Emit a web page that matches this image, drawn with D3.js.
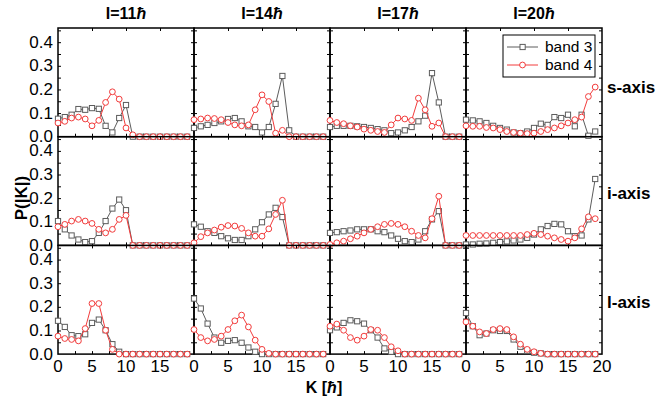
<!DOCTYPE html>
<html>
<head>
<meta charset="utf-8">
<script src="https://cdn.jsdelivr.net/npm/d3@7"></script>
<style>
  body { margin: 0; background: #fff; }
  svg text { font-family: Arial, "Liberation Sans", sans-serif; }
</style>
</head>
<body>
<svg id="kDistGraph" width="659" height="406"></svg>
<script>
// K values [hbar]
let kValues = [0, 1, 2, 3, 4, 5, 6, 7, 8, 9, 10, 11, 12, 13, 14, 15, 16, 17, 18, 19];
let spins = [11, 14, 17, 20];
let rotAxes = ["s-axis", "i-axis", "l-axis"];
let bands = ["band 3", "band 4"];
let yTickLabels = [0, 0.1, 0.2, 0.3, 0.4];
let xTickLabels = [0, 5, 10, 15, 20];

// P(|K|), one array per spin I = 11, 14, 17, 20
let band3S = [
  [0.076, 0.083, 0.093, 0.117, 0.114, 0.121, 0.118, 0.046, 0.018, 0.079, 0.134, 0, 0, 0, 0, 0, 0, 0, 0, 0],
  [0.037, 0.044, 0.050, 0.058, 0.065, 0.075, 0.079, 0.065, 0.044, 0.041, 0.018, 0.041, 0.139, 0.257, 0.027, 0, 0, 0, 0, 0],
  [0.041, 0.046, 0.046, 0.046, 0.044, 0.041, 0.037, 0.032, 0.027, 0.015, 0.018, 0.027, 0.041, 0.065, 0.089, 0.269, 0.145, 0, 0, 0],
  [0.072, 0.069, 0.065, 0.058, 0.046, 0.037, 0.030, 0.018, 0.015, 0.022, 0.037, 0.055, 0.050, 0.083, 0.079, 0.093, 0.044, 0.093, 0.004, 0.022]
];
let band4S = [
  [0.058, 0.065, 0.079, 0.083, 0.075, 0.046, 0.069, 0.145, 0.190, 0.159, 0.037, 0.008, 0, 0, 0, 0, 0, 0, 0, 0],
  [0.072, 0.075, 0.079, 0.077, 0.072, 0.060, 0.050, 0.046, 0.050, 0.114, 0.177, 0.149, 0.015, 0.027, 0, 0, 0, 0, 0, 0],
  [0.069, 0.060, 0.055, 0.046, 0.041, 0.032, 0.027, 0.022, 0.018, 0.050, 0.079, 0.075, 0.069, 0.163, 0.114, 0.044, 0.058, 0, 0, 0],
  [0.046, 0.044, 0.044, 0.039, 0.037, 0.030, 0.022, 0.018, 0.015, 0.013, 0.015, 0.022, 0.030, 0.037, 0.046, 0.058, 0.072, 0.083, 0.170, 0.210]
];
let band3I = [
  [0.103, 0.068, 0.042, 0.025, 0.014, 0.018, 0.053, 0.103, 0.156, 0.194, 0.149, 0, 0, 0, 0, 0, 0, 0, 0, 0],
  [0.089, 0.079, 0.060, 0.053, 0.039, 0.030, 0.023, 0.023, 0.039, 0.068, 0.098, 0.131, 0.159, 0.120, 0, 0, 0, 0, 0, 0],
  [0.053, 0.056, 0.060, 0.063, 0.068, 0.068, 0.068, 0.060, 0.056, 0.042, 0.028, 0.018, 0.014, 0.025, 0.060, 0.110, 0.145, 0, 0, 0],
  [0.004, 0.004, 0.007, 0.008, 0.011, 0.014, 0.017, 0.021, 0.025, 0.032, 0.046, 0.068, 0.082, 0.091, 0.089, 0.060, 0.039, 0.042, 0.110, 0.281]
];
let band4I = [
  [0.079, 0.089, 0.103, 0.110, 0.103, 0.093, 0.068, 0.053, 0.068, 0.110, 0.127, 0, 0, 0, 0, 0, 0, 0, 0, 0],
  [0.011, 0.037, 0.053, 0.065, 0.077, 0.084, 0.082, 0.072, 0.053, 0.039, 0.039, 0.070, 0.131, 0.191, 0, 0, 0, 0, 0, 0],
  [0.004, 0.011, 0.018, 0.028, 0.039, 0.053, 0.068, 0.079, 0.089, 0.093, 0.089, 0.079, 0.060, 0.042, 0.032, 0.113, 0.208, 0, 0, 0],
  [0.042, 0.042, 0.042, 0.042, 0.042, 0.042, 0.042, 0.042, 0.042, 0.046, 0.051, 0.046, 0.039, 0.032, 0.025, 0.018, 0.032, 0.070, 0.121, 0.113]
];
let band3L = [
  [0.141, 0.115, 0.080, 0.076, 0.084, 0.132, 0.146, 0.101, 0.042, 0.010, 0, 0, 0, 0, 0, 0, 0, 0, 0, 0],
  [0.235, 0.193, 0.129, 0.070, 0.048, 0.056, 0.059, 0.048, 0.028, 0.010, 0, 0, 0, 0, 0, 0, 0, 0, 0, 0],
  [0.101, 0.113, 0.132, 0.143, 0.139, 0.129, 0.101, 0.070, 0.024, 0.010, 0, 0, 0, 0, 0, 0, 0, 0, 0, 0],
  [0.174, 0.118, 0.080, 0.087, 0.101, 0.098, 0.098, 0.062, 0.031, 0.014, 0.006, 0.003, 0, 0, 0, 0, 0, 0, 0, 0]
];
let band4L = [
  [0.076, 0.066, 0.062, 0.056, 0.108, 0.214, 0.214, 0.101, 0.020, 0, 0, 0, 0, 0, 0, 0, 0, 0, 0, 0],
  [0.104, 0.070, 0.056, 0.062, 0.076, 0.104, 0.141, 0.165, 0.115, 0.059, 0.020, 0.003, 0, 0, 0, 0, 0, 0, 0, 0],
  [0.118, 0.127, 0.101, 0.070, 0.059, 0.076, 0.104, 0.101, 0.070, 0.031, 0.014, 0, 0, 0, 0, 0, 0, 0, 0, 0],
  [0.136, 0.118, 0.094, 0.087, 0.104, 0.108, 0.104, 0.073, 0.042, 0.020, 0.010, 0.003, 0, 0, 0, 0, 0, 0, 0, 0]
];

let rowsBand3 = [band3S, band3I, band3L];
let rowsBand4 = [band4S, band4I, band4L];
let colors = ["#5c5c5c", "#f23c3c"];

let svg = d3.select("#kDistGraph"),
    margin = {top: 28, left: 58},
    panelW = 136,
    panelH = 108.7;

let x = d3.scaleLinear().domain([0, 20]).range([0, panelW]),
    y = d3.scaleLinear().domain([0, 0.46]).range([panelH, 0]);

let line = d3.line()
  .x(function (d) { return x(d.k); })
  .y(function (d) { return y(d.p); });

rotAxes.forEach(function (axisName, r) {
  spins.forEach(function (spin, c) {
    let g = svg.append("g")
      .attr("transform", "translate(" + (margin.left + c * panelW) + "," + (margin.top + r * panelH) + ")");

    // inward ticks on all four sides
    g.append("g")
      .call(d3.axisBottom(x).tickValues(d3.range(2.5, 20, 2.5)).tickSize(-3).tickFormat(""))
      .attr("transform", "translate(0," + panelH + ")")
      .call(function (a) { a.select(".domain").remove(); });
    g.append("g")
      .call(d3.axisTop(x).tickValues([5, 10, 15]).tickSize(-3).tickFormat(""))
      .call(function (a) { a.select(".domain").remove(); });
    g.append("g")
      .call(d3.axisLeft(y).tickValues(d3.range(0.05, 0.46, 0.05)).tickSize(-3).tickFormat(""))
      .call(function (a) { a.select(".domain").remove(); });
    g.append("g")
      .attr("transform", "translate(" + panelW + ",0)")
      .call(d3.axisRight(y).tickValues(d3.range(0.05, 0.46, 0.05)).tickSize(-3).tickFormat(""))
      .call(function (a) { a.select(".domain").remove(); });

    g.append("rect")
      .attr("width", panelW)
      .attr("height", panelH)
      .attr("fill", "none")
      .attr("stroke", "#000")
      .attr("stroke-width", 1.5);

    // tick labels only on outer panels
    if (c === 0) {
      g.selectAll(".ylab")
        .data(yTickLabels)
        .enter().append("text")
        .attr("x", -5)
        .attr("y", function (d) { return y(d); })
        .attr("dy", "0.33em")
        .attr("text-anchor", "end")
        .style("font-size", "17px")
        .text(function (d) { return d.toFixed(1); });
    }
    if (r === rotAxes.length - 1) {
      g.selectAll(".xlab")
        .data(c === spins.length - 1 ? xTickLabels : xTickLabels.slice(0, 4))
        .enter().append("text")
        .attr("x", function (d) { return x(d); })
        .attr("y", panelH + 18)
        .attr("text-anchor", "middle")
        .style("font-size", "17px")
        .text(function (d) { return d; });
    }
    if (r === 0) {
      let t = g.append("text")
        .attr("x", panelW / 2)
        .attr("y", -9)
        .attr("text-anchor", "middle")
        .style("font-size", "16px")
        .style("font-weight", "bold")
        .text("I=" + spin);
      t.append("tspan").style("font-style", "italic").text("ħ");
    }
    if (c === spins.length - 1) {
      g.append("text")
        .attr("x", panelW + 5)
        .attr("y", r === 0 ? 59 : panelH / 2 + 2)
        .attr("dy", "0.35em")
        .style("font-size", "17px")
        .style("font-weight", "bold")
        .text(axisName);
    }

    // series
    [rowsBand3[r][c], rowsBand4[r][c]].forEach(function (vals, b) {
      let pts = kValues.map(function (k, i) { return {k: k, p: vals[i]}; });
      g.append("path")
        .datum(pts)
        .attr("fill", "none")
        .attr("stroke", colors[b])
        .attr("stroke-width", 1)
        .attr("d", line);
      if (b === 0) {
        g.selectAll(".sq" + r + c)
          .data(pts)
          .enter().append("rect")
          .attr("x", function (d) { return x(d.k) - 2.6; })
          .attr("y", function (d) { return y(d.p) - 2.6; })
          .attr("width", 5.2)
          .attr("height", 5.2)
          .attr("fill", "#fff")
          .attr("stroke", colors[0])
          .attr("stroke-width", 1);
      } else {
        g.selectAll(".ci" + r + c)
          .data(pts)
          .enter().append("circle")
          .attr("cx", function (d) { return x(d.k); })
          .attr("cy", function (d) { return y(d.p); })
          .attr("r", 2.9)
          .attr("fill", "#fff")
          .attr("stroke", colors[1])
          .attr("stroke-width", 1);
      }
    });
  });
});

// AXIS TITLES
svg.append("text")
  .attr("transform", "translate(27,198) rotate(-90)")
  .attr("text-anchor", "middle")
  .style("font-size", "17px")
  .style("font-weight", "bold")
  .text("P(|K|)");

let kt = svg.append("text")
  .attr("x", 324)
  .attr("y", 393)
  .attr("text-anchor", "middle")
  .style("font-size", "16px")
  .style("font-weight", "bold")
  .text("K [");
kt.append("tspan").style("font-style", "italic").text("ħ");
kt.append("tspan").text("]");

// LEGEND
let legend = svg.append("g")
  .attr("transform", "translate(503,35)");
legend.append("rect")
  .attr("width", 92)
  .attr("height", 42)
  .attr("fill", "#fff")
  .attr("stroke", "#000")
  .attr("stroke-width", 1);

let item = legend.selectAll(".item")
  .data(bands)
  .enter().append("g")
  .attr("transform", function (d, i) { return "translate(0," + (12 + i * 18) + ")"; });
item.append("line")
  .attr("x1", 4).attr("x2", 35)
  .attr("stroke", function (d, i) { return colors[i]; });
item.filter(function (d, i) { return i === 0; }).append("rect")
  .attr("x", 17).attr("y", -2.6).attr("width", 5.2).attr("height", 5.2)
  .attr("fill", "#fff").attr("stroke", colors[0]);
item.filter(function (d, i) { return i === 1; }).append("circle")
  .attr("cx", 19.5).attr("r", 2.9)
  .attr("fill", "#fff").attr("stroke", colors[1]);
item.append("text")
  .attr("x", 42)
  .attr("dy", "0.35em")
  .style("font-size", "15.5px")
  .text(function (d) { return d; });
</script>
</body>
</html>
